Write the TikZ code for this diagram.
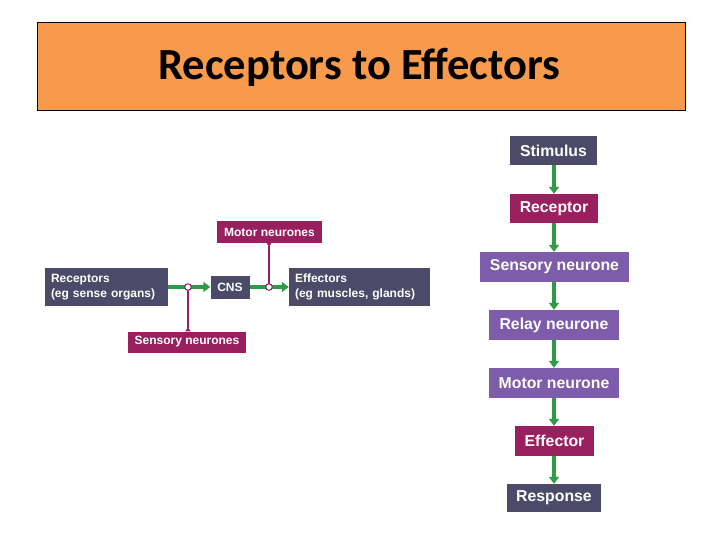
\documentclass[tikz,border=0pt]{standalone}
\usepackage{fontspec}
\setmainfont{Liberation Sans}
\newfontfamily\titlefont{Carlito}
\usetikzlibrary{arrows.meta,calc}
\definecolor{slate}{HTML}{4B4A68}
\definecolor{magen}{HTML}{9A1F5E}
\definecolor{purp}{HTML}{7C5CAB}
\definecolor{grn}{HTML}{2F9A48}
\definecolor{orng}{HTML}{F79A4B}
\tikzset{
  box/.style={inner sep=0pt, text=white, font=\bfseries\fontsize{15.8}{18}\selectfont, align=center},
  sbox/.style={inner sep=0pt, text=white, font=\bfseries\fontsize{12}{15}\selectfont},
  garrow/.style={draw=grn, line width=3.5pt, -{Triangle[length=7pt,width=10pt]}},
  mline/.style={draw=magen, line width=1.2pt, -{Triangle[reversed,length=4pt,width=5pt]}},
  junc/.style={circle, draw=magen, fill=white, line width=1pt, inner sep=0pt, minimum size=6.5pt}
}
\begin{document}
\begin{tikzpicture}[x=1pt,y=-1pt]
\useasboundingbox (0,0) rectangle (720,540);
% title
\node[draw=black, line width=0.8pt, fill=orng, minimum width=648pt, minimum height=88pt, inner sep=0pt] (title) at (361,66) {};
\node[font=\titlefont\bfseries\fontsize{44.5}{48}\selectfont] (ttext) at (359.5,67) {Receptors to Effectors};
% right column
\node[box, fill=slate, minimum width=87pt, minimum height=29pt] (stim) at (553.5,150.5) {Stimulus};
\node[box, fill=magen, minimum width=88pt, minimum height=29pt] (recp) at (554,208.5) {Receptor};
\node[box, fill=purp, minimum width=149pt, minimum height=30pt] (sens1) at (554.5,267) {Sensory neurone};
\node[box, fill=purp, minimum width=130pt, minimum height=30pt] (relay) at (554,325) {Relay neurone};
\node[box, fill=purp, minimum width=130pt, minimum height=30pt] (motor1) at (554,383) {Motor neurone};
\node[box, fill=magen, minimum width=79pt, minimum height=30pt] (eff1) at (554.5,441) {Effector};
\node[box, fill=slate, minimum width=94pt, minimum height=28pt] (resp) at (554,498) {Response};
\foreach \a/\b in {stim/recp,recp/sens1,sens1/relay,relay/motor1,motor1/eff1,eff1/resp}
  \draw[garrow] (\a.south -| 554,0) -- (\b.north -| 554,0);
% left diagram
\node[sbox, fill=slate, minimum width=123pt, minimum height=38pt, align=left, text width=111pt, inner xsep=6pt] (rec) at (106.5,287) {Receptors\\(eg sense organs)};
\node[sbox, fill=slate, minimum width=39pt, minimum height=23pt, align=center] (cns) at (230,287) {CNS};
\node[sbox, fill=slate, minimum width=141pt, minimum height=38pt, align=left, text width=129pt, inner xsep=6pt] (effs) at (359.5,287) {Effectors\\(eg muscles, glands)};
\node[sbox, fill=magen, minimum width=105pt, minimum height=21pt, align=center] (mot) at (269.5,232) {Motor neurones};
\node[sbox, fill=magen, minimum width=118pt, minimum height=21pt, align=center] (sen) at (187,342) {Sensory neurones};
\coordinate (sj) at (188,287);
\coordinate (mj) at (269,287);
\draw[garrow] (rec.east) -- (cns.west);
\draw[garrow] (cns.east) -- (effs.west);
\draw[mline] (sj) -- (sj |- sen.north);
\draw[mline] (mj) -- (mj |- mot.south);
\node[junc] (sjc) at (sj) {};
\node[junc] (mjc) at (mj) {};
\end{tikzpicture}
\end{document}
